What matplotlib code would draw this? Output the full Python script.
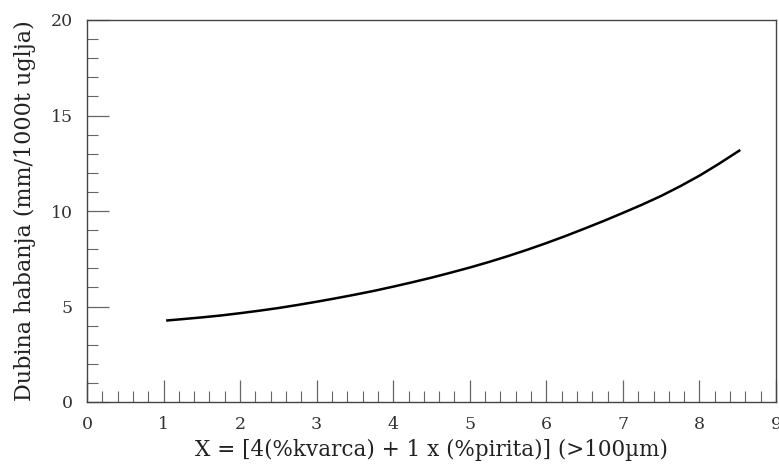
import matplotlib
matplotlib.use("Agg")
import matplotlib.pyplot as plt
from matplotlib.ticker import MultipleLocator

# Values
x_vals = [1.05, 1.25, 1.5, 1.75, 2.0, 2.25, 2.5, 2.75, 3.0, 3.25, 3.5, 3.75, 4.0, 4.25,
          4.5, 4.75, 5.0, 5.25, 5.5, 5.75, 6.0, 6.25, 6.5, 6.75, 7.0, 7.25, 7.5, 7.75,
          8.0, 8.25, 8.52]
y_vals = [4.27, 4.34, 4.43, 4.53, 4.65, 4.78, 4.92, 5.08, 5.25, 5.43, 5.62, 5.82, 6.04, 6.27,
          6.51, 6.77, 7.04, 7.33, 7.64, 7.97, 8.32, 8.69, 9.08, 9.48, 9.90, 10.33, 10.79, 11.30,
          11.85, 12.46, 13.16]

x_label = "X = [4(%kvarca) + 1 x (%pirita)] (>100\u00b5m)"
y_label = "Dubina habanja (mm/1000t uglja)"

plt.rcParams['font.family'] = ['DejaVu Serif']

W, H = 779, 466
fig = plt.figure(figsize=(W / 100, H / 100), dpi=100)
ax = fig.add_axes([87 / W, (H - 402) / H, (776 - 87) / W, (402 - 20) / H])

ax.plot(x_vals, y_vals, color="black", linewidth=1.8)

ax.set_xlim(0, 9)
ax.set_ylim(0, 20)
ax.xaxis.set_major_locator(MultipleLocator(1))
ax.xaxis.set_minor_locator(MultipleLocator(0.2))
ax.yaxis.set_major_locator(MultipleLocator(5))
ax.yaxis.set_minor_locator(MultipleLocator(1))

ax.tick_params(which="both", direction="in", colors="#666666", labelcolor="#333333",
               top=False, right=False)
ax.tick_params(which="major", length=15.5, width=0.9, labelsize=12.5, pad=10)
ax.tick_params(which="minor", length=8, width=0.8)

for s in ax.spines.values():
    s.set_color("#444444")
    s.set_linewidth(1.0)

ax.set_xlabel(x_label, fontsize=15.5, color="#222222", labelpad=4)
ax.set_ylabel(y_label, fontsize=16, color="#222222", labelpad=11)

fig.savefig("out.png", dpi=100)
